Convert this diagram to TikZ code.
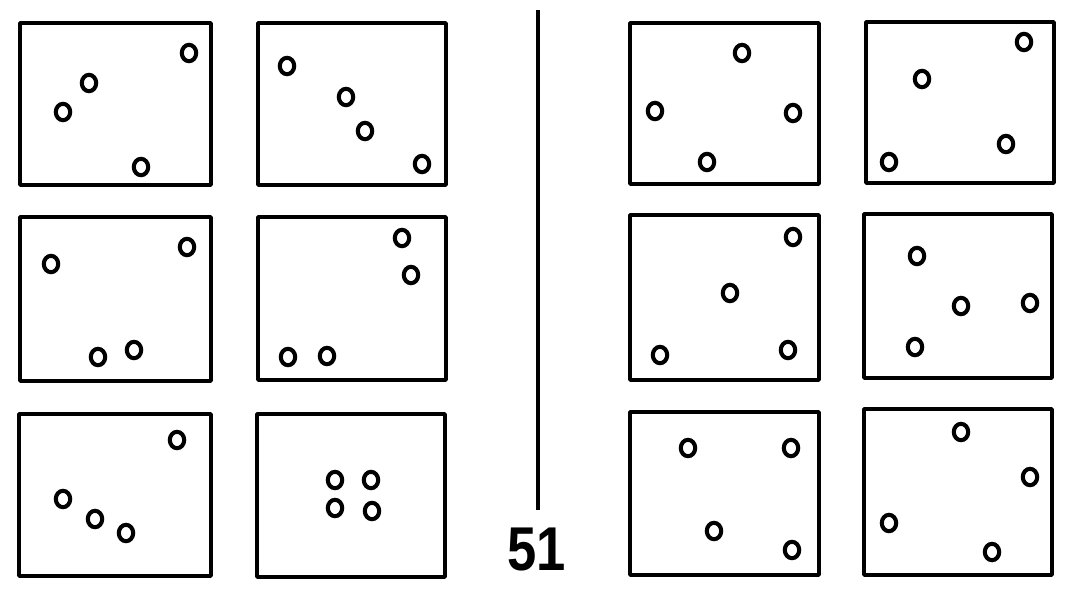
\documentclass[tikz,border=0pt]{standalone}
\usepackage{fontspec}
\newfontfamily\numfont{Liberation Sans}
\begin{document}
\begin{tikzpicture}[x=0.025cm,y=-0.025cm,
    panel/.style={draw=black, line width=2.6pt, line join=round},
    ring/.style={draw=black, line width=2.9pt},
    divider/.style={draw=black, line width=3.2pt},
    label/.style={font=\numfont\bfseries\fontsize{44}{48}\selectfont, inner sep=0pt, xscale=0.85}]
    \useasboundingbox (0,0) rectangle (1080,601);

    % panels, left then right
    \foreach \xa/\ya/\xb/\yb in {20/23/211/185, 258/23/446/185,
        20/217/211/381, 258/217/446/380,
        19/414/211/576, 257/414/445/577,
        630/23/819/184, 866/22/1054/183,
        630/215/819/380, 864/214/1052/378,
        630/412/819/575, 864/409/1052/575}
        \draw[panel] (\xa,\ya) rectangle (\xb,\yb);

    % small rings
    \foreach \x/\y in {189/53, 89/83, 63/112, 141/167,
        287/66, 346/97, 365/131, 422/164,
        51/264, 187/247, 98/357, 134/350,
        402/238, 411/275, 288/357, 327/356,
        177/440, 63/499, 95/519, 126/533,
        335/480, 371/480, 335/508, 372/511,
        742/53, 655/111, 793/113, 707/162,
        1024/42, 922/79, 1006/144, 889/162,
        793/237, 730/293, 660/355, 788/350,
        917/256, 961/306, 1030/303, 915/347,
        688/448, 791/448, 714/531, 792/550,
        961/432, 1030/477, 889/523, 992/552}
        \draw[ring] (\x,\y) ellipse[x radius=0.18cm, y radius=0.205cm];

    \coordinate (top) at (538,10);
    \coordinate (bottom) at (538,510);
    \draw[divider] (top) -- (bottom);

    \node[label] (num) at (537,550) {51};
\end{tikzpicture}
\end{document}
